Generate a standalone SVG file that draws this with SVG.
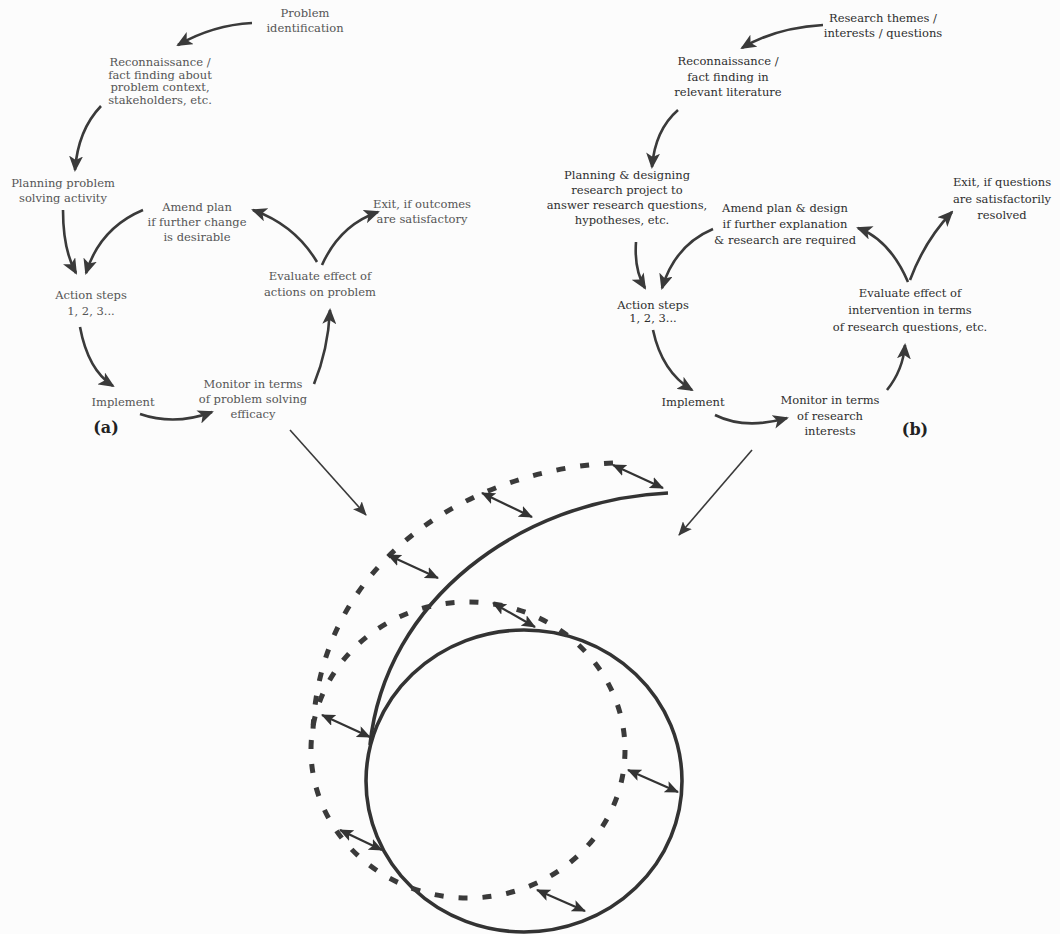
<svg xmlns="http://www.w3.org/2000/svg" width="1060" height="934" viewBox="0 0 1060 934">
<style>
  .ta { font-family: "DejaVu Serif", "Liberation Serif", serif; font-size: 11.5px; fill: #555; text-anchor: middle; }
  .tb { font-family: "DejaVu Serif", "Liberation Serif", serif; font-size: 11.5px; fill: #2e2e2e; text-anchor: middle; }
  .lbl { font-family: "DejaVu Serif", "Liberation Serif", serif; font-size: 16px; font-weight: bold; fill: #222; text-anchor: middle; }
  .cyc { fill: none; stroke: #3a3a3a; stroke-width: 2.6; marker-end: url(#ah); }
  .lng { fill: none; stroke: #3a3a3a; stroke-width: 1.6; marker-end: url(#sh); }
  .dbl { fill: none; stroke: #333; stroke-width: 2.2; marker-start: url(#dh); marker-end: url(#dh); }
  .sol { fill: none; stroke: #333; stroke-width: 3.6; }
  .dsh { fill: none; stroke: #3a3a3a; stroke-width: 5; stroke-dasharray: 9 15; }
</style>
<defs>
  <marker id="ah" viewBox="0 0 16 14" refX="14" refY="7" markerWidth="16" markerHeight="14" markerUnits="userSpaceOnUse" orient="auto">
    <path d="M0,0 L16,7 L0,14 L4,7 z" fill="#3a3a3a"/>
  </marker>
  <marker id="sh" viewBox="0 0 14 12" refX="13" refY="6" markerWidth="14" markerHeight="12" markerUnits="userSpaceOnUse" orient="auto">
    <path d="M0,0 L14,6 L0,12 L3,6 z" fill="#3a3a3a"/>
  </marker>
  <marker id="dh" viewBox="0 0 14 12" refX="13" refY="6" markerWidth="14" markerHeight="12" markerUnits="userSpaceOnUse" orient="auto-start-reverse">
    <path d="M0,0 L14,6 L0,12 L3,6 z" fill="#333"/>
  </marker>
</defs>
<rect width="1060" height="934" fill="#fcfcfc"/>

<!-- Diagram (a) nodes -->
<g id="a-problem"><text class="ta" x="305" y="17"><tspan x="305">Problem</tspan><tspan x="305" dy="15">identification</tspan></text></g>
<g id="a-recon"><text class="ta" x="160" y="66"><tspan x="160">Reconnaissance /</tspan><tspan x="160" dy="12.5">fact finding about</tspan><tspan x="160" dy="12.5">problem context,</tspan><tspan x="160" dy="12.5">stakeholders, etc.</tspan></text></g>
<g id="a-planning"><text class="ta" x="63" y="187"><tspan x="63">Planning problem</tspan><tspan x="63" dy="15">solving activity</tspan></text></g>
<g id="a-amend"><text class="ta" x="197" y="211"><tspan x="197">Amend plan</tspan><tspan x="197" dy="15">if further change</tspan><tspan x="197" dy="15">is desirable</tspan></text></g>
<g id="a-action"><text class="ta" x="91" y="299"><tspan x="91">Action steps</tspan><tspan x="91" dy="16">1, 2, 3...</tspan></text></g>
<g id="a-implement"><text class="ta" x="123" y="406">Implement</text></g>
<g id="a-monitor"><text class="ta" x="253" y="388"><tspan x="253">Monitor in terms</tspan><tspan x="253" dy="15">of problem solving</tspan><tspan x="253" dy="15">efficacy</tspan></text></g>
<g id="a-evaluate"><text class="ta" x="320" y="280"><tspan x="320">Evaluate effect of</tspan><tspan x="320" dy="16">actions on problem</tspan></text></g>
<g id="a-exit"><text class="ta" x="422" y="208"><tspan x="422">Exit, if outcomes</tspan><tspan x="422" dy="15">are satisfactory</tspan></text></g>
<g id="a-label"><text class="lbl" x="106" y="433">(a)</text></g>

<!-- Diagram (b) nodes -->
<g id="b-themes"><text class="tb" x="883" y="22"><tspan x="883">Research themes /</tspan><tspan x="883" dy="15">interests / questions</tspan></text></g>
<g id="b-recon"><text class="tb" x="728" y="65"><tspan x="728">Reconnaissance /</tspan><tspan x="728" dy="15.5">fact finding in</tspan><tspan x="728" dy="15.5">relevant literature</tspan></text></g>
<g id="b-planning"><text class="tb" x="627" y="179"><tspan x="627">Planning &amp; designing</tspan><tspan x="627" dy="15">research project to</tspan><tspan x="627" dy="15">answer research questions,</tspan><tspan x="622" dy="15">hypotheses, etc.</tspan></text></g>
<g id="b-amend"><text class="tb" x="785" y="212"><tspan x="785">Amend plan &amp; design</tspan><tspan x="785" dy="16">if further explanation</tspan><tspan x="785" dy="16">&amp; research are required</tspan></text></g>
<g id="b-action"><text class="tb" x="653" y="309"><tspan x="653">Action steps</tspan><tspan x="653" dy="12.5">1, 2, 3...</tspan></text></g>
<g id="b-implement"><text class="tb" x="693" y="406">Implement</text></g>
<g id="b-monitor"><text class="tb" x="830" y="404"><tspan x="830">Monitor in terms</tspan><tspan x="830" dy="15.5">of research</tspan><tspan x="830" dy="15">interests</tspan></text></g>
<g id="b-evaluate"><text class="tb" x="910" y="297"><tspan x="910">Evaluate effect of</tspan><tspan x="910" dy="17">intervention in terms</tspan><tspan x="910" dy="17">of research questions, etc.</tspan></text></g>
<g id="b-exit"><text class="tb" x="1002" y="186"><tspan x="1002">Exit, if questions</tspan><tspan x="1002" dy="16.5">are satisfactorily</tspan><tspan x="1002" dy="16.5">resolved</tspan></text></g>
<g id="b-label"><text class="lbl" x="915" y="435">(b)</text></g>

<!-- Spiral -->
<g id="spiral">
  <ellipse class="sol" cx="524" cy="781" rx="158" ry="151"/>
  <path class="sol" d="M668,493 C520,500 385,600 370,745"/>
  <ellipse class="dsh" cx="468" cy="750" rx="157" ry="148"/>
  <path class="dsh" d="M613,463 C470,470 320,560 313,730"/>
</g>

<!-- Connectors -->
<g id="connectors">
  <path class="cyc" d="M252,23 Q213,25 178,45"/>
  <path class="cyc" d="M101,106 Q78,130 75,170"/>
  <path class="cyc" d="M63,210 Q63,250 76,273"/>
  <path class="cyc" d="M143,210 Q100,228 86,273"/>
  <path class="cyc" d="M80,327 Q88,370 113,386"/>
  <path class="cyc" d="M140,414 Q175,426 212,412"/>
  <path class="cyc" d="M314,384 Q328,350 330,310"/>
  <path class="cyc" d="M317,262 Q295,225 253,210"/>
  <path class="cyc" d="M322,265 Q340,225 378,212"/>

  <path class="cyc" d="M823,25 Q775,28 742,48"/>
  <path class="cyc" d="M678,110 Q655,130 652,167"/>
  <path class="cyc" d="M636,242 Q634,270 645,288"/>
  <path class="cyc" d="M713,229 Q675,245 662,288"/>
  <path class="cyc" d="M653,330 Q662,372 692,390"/>
  <path class="cyc" d="M715,415 Q745,430 787,418"/>
  <path class="cyc" d="M887,390 Q903,370 905,345"/>
  <path class="cyc" d="M908,282 Q890,240 858,228"/>
  <path class="cyc" d="M910,280 Q925,240 952,212"/>

  <path class="lng" d="M290,430 L366,515"/>
  <path class="lng" d="M752,450 L679,535"/>

  <path class="dbl" d="M613,465 L663,488"/>
  <path class="dbl" d="M482,493 L532,517"/>
  <path class="dbl" d="M388,555 L438,578"/>
  <path class="dbl" d="M493,603 L535,627"/>
  <path class="dbl" d="M322,715 L370,737"/>
  <path class="dbl" d="M628,770 L678,792"/>
  <path class="dbl" d="M340,830 L382,850"/>
  <path class="dbl" d="M537,890 L585,911"/>
</g>
</svg>
